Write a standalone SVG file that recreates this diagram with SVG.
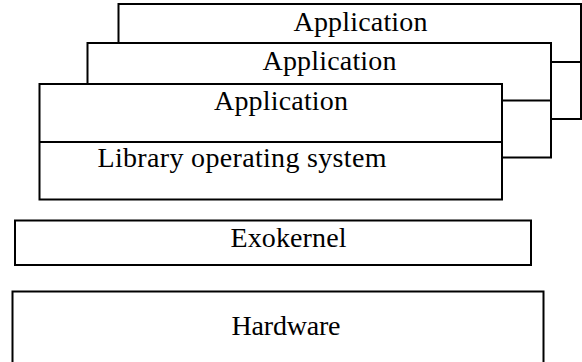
<svg xmlns="http://www.w3.org/2000/svg" width="582" height="362" viewBox="0 0 582 362">
  <style>
    .box { fill: #ffffff; stroke: #000000; stroke-width: 2; }
    .div { stroke: #000000; stroke-width: 2; fill: none; }
    .lbl { font-family: "Liberation Serif", "Times New Roman", serif; font-size: 28px; fill: #000000; text-anchor: middle; }
  </style>
  <rect x="0" y="0" width="582" height="362" fill="#ffffff"/>
  <g id="app3">
    <rect class="box" x="118.5" y="4" width="462.5" height="115"/>
    <line class="div" x1="118.5" y1="62" x2="581" y2="62"/>
    <text class="lbl" x="360.5" y="30.5" textLength="134">Application</text>
  </g>
  <g id="app2">
    <rect class="box" x="87.5" y="43" width="463.5" height="114.5"/>
    <line class="div" x1="87.5" y1="100.5" x2="551" y2="100.5"/>
    <text class="lbl" x="329.5" y="70" textLength="134">Application</text>
  </g>
  <g id="app1">
    <rect class="box" x="39.5" y="84" width="462.5" height="115.5"/>
    <line class="div" x1="39.5" y1="142" x2="502" y2="142"/>
    <text class="lbl" x="281" y="110" textLength="134">Application</text>
    <text class="lbl" x="242" y="167" textLength="289">Library operating system</text>
  </g>
  <g id="exokernel">
    <rect class="box" x="15" y="220.5" width="516" height="44.5"/>
    <text class="lbl" x="288.5" y="247" textLength="116">Exokernel</text>
  </g>
  <g id="hardware">
    <rect class="box" x="12.5" y="291.5" width="531" height="80"/>
    <text class="lbl" x="286" y="335" textLength="109">Hardware</text>
  </g>
  <g id="connectors"></g>
</svg>
